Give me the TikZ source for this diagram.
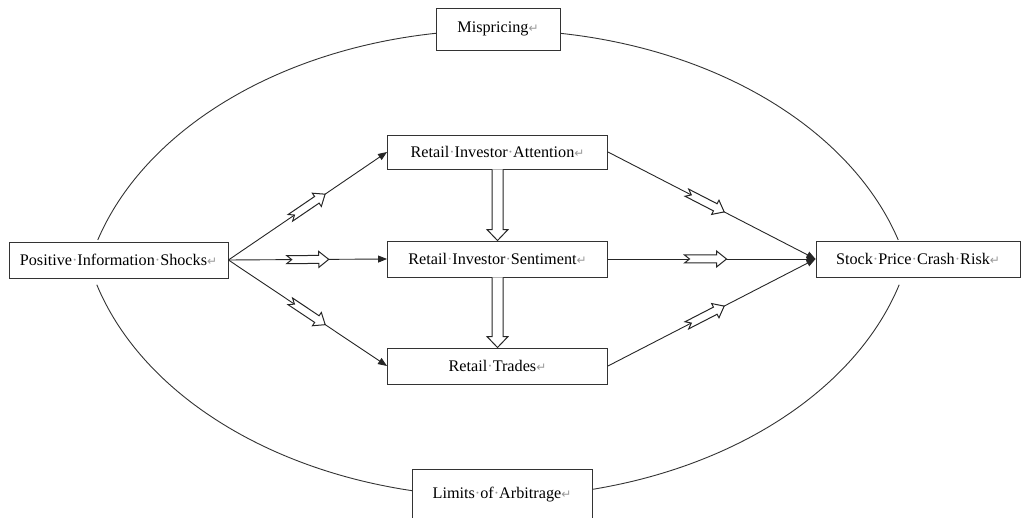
\documentclass[tikz,border=0pt]{standalone}
\usepackage{fontspec}
\setmainfont{Liberation Serif}
\newfontfamily\djv{DejaVu Sans}
\usetikzlibrary{arrows.meta,calc,decorations.markings}
\newcommand{\sdot}{{\color{black!40}\char"00B7}}
\newcommand{\pmark}{{\djv\fontsize{12}{12}\selectfont\color{black!40}\char"21B5}}
\begin{document}
\begin{tikzpicture}[x=1pt,y=-1pt,
  box/.style={draw=black!80, line width=0.9pt, fill=white, inner sep=0pt,
    font=\fontsize{16.2}{19}\selectfont, align=center, text=black},
  arcline/.style={draw=black!80, line width=0.9pt},
  conn/.style={draw=black!85, line width=0.9pt, -{Triangle[length=9pt,width=7pt]}},
  hollow/.style={draw=black!85, line width=1pt, fill=white},
  hm/.style={postaction={decorate, decoration={markings, mark=at position #1 with {
      \draw[hollow] (-21pt,4pt) -- (11pt,4pt) -- (11pt,8pt) -- (21pt,0pt) -- (11pt,-8pt)
        -- (11pt,-4pt) -- (-21pt,-4pt) -- (-16pt,0pt) -- cycle;}}}}
]
\useasboundingbox (0,0) rectangle (1026,518);
\clip (0,0) rectangle (1026,518);

% outer arcs
\draw[arcline] plot[domain=16.75:163.25, samples=150] ({498+418*cos(\x)},{325-295*sin(\x)});
\draw[arcline] plot[domain=16.3:163.7, samples=150] ({498+418*cos(\x)},{202+295*sin(\x)});

% nodes
\node[box, minimum width=124pt, minimum height=42pt] (misp) at (498,29) {Mispricing\pmark};
\node[box, minimum width=180pt, minimum height=52pt] (lim) at (502,495) {Limits\sdot of\sdot Arbitrage\pmark};
\node[box, minimum width=219pt, minimum height=36pt] (pis) at (118.5,260) {Positive\sdot Information\sdot Shocks\pmark};
\node[box, minimum width=220pt, minimum height=34pt] (ria) at (497.5,152) {Retail\sdot Investor\sdot Attention\pmark};
\node[box, minimum width=220pt, minimum height=36pt] (ris) at (497.5,259) {Retail\sdot Investor\sdot Sentiment\pmark};
\node[box, minimum width=220pt, minimum height=36pt] (rt) at (497.5,366) {Retail\sdot Trades\pmark};
\node[box, minimum width=204pt, minimum height=36pt] (spcr) at (918,259) {Stock\sdot Price\sdot Crash\sdot Risk\pmark};

% connectors
\draw[conn, hm=0.5] (pis.east) -- (ria.west);
\draw[conn, hm=0.5] (pis.east) -- (ris.west);
\draw[conn, hm=0.5] (pis.east) -- (rt.west);
\draw[conn, hm=0.47] (ria.east) -- (spcr.west);
\draw[conn, hm=0.47] (ris.east) -- (spcr.west);
\draw[conn, hm=0.47] (rt.east) -- (spcr.west);

% vertical hollow arrows
\draw[hollow] ($(ria.south)+(-5.5,0)$) -- ($(ris.north)+(-5.5,-11)$) -- ($(ris.north)+(-10.5,-11)$)
  -- (ris.north) -- ($(ris.north)+(10.5,-11)$) -- ($(ris.north)+(5.5,-11)$) -- ($(ria.south)+(5.5,0)$);
\draw[hollow] ($(ris.south)+(-5.5,0)$) -- ($(rt.north)+(-5.5,-11)$) -- ($(rt.north)+(-10.5,-11)$)
  -- (rt.north) -- ($(rt.north)+(10.5,-11)$) -- ($(rt.north)+(5.5,-11)$) -- ($(ris.south)+(5.5,0)$);
\end{tikzpicture}
\end{document}
